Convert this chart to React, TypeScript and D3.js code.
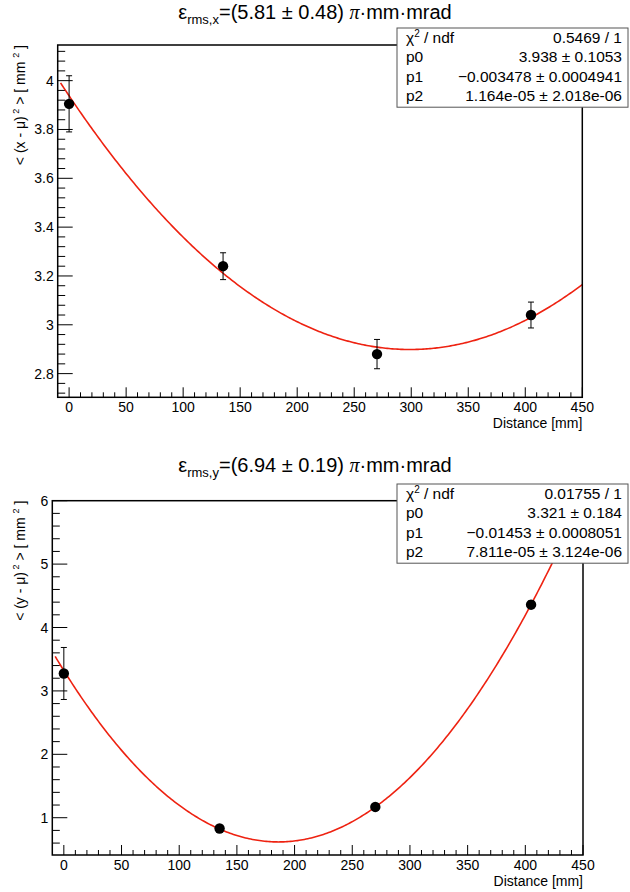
import React from 'react';
import * as d3 from 'd3';

// ---- data ----
const distances = [0, 135, 270, 405];
const sigmaX = [3.905, 3.24, 2.88, 3.04];
const sigmaXErr = [0.115, 0.055, 0.06, 0.053];
const sigmaY = [3.275, 0.83, 1.17, 4.36];
const sigmaYErr = [0.41, 0.05, 0.045, 0.06];
const fitParamsX = [3.938, -0.003478, 1.164e-5];
const fitParamsY = [3.321, -0.01453, 7.811e-5];
const statsLabels = ['p0', 'p1', 'p2'];
const statsX = ['0.5469 / 1', '3.938 ± 0.1053', '−0.003478 ± 0.0004941', '1.164e-05 ± 2.018e-06'];
const statsY = ['0.01755 / 1', '3.321 ± 0.184', '−0.01453 ± 0.0008051', '7.811e-05 ± 3.124e-06'];
const xMajorTicks = [0, 50, 100, 150, 200, 250, 300, 350, 400, 450];
const yMajorTicksX = [2.8, 3.0, 3.2, 3.4, 3.6, 3.8, 4.0];
const yMajorTicksY = [1, 2, 3, 4, 5, 6];
const titleX = { sub: 'rms,x', rest: '=(5.81 ± 0.48) ' };
const titleY = { sub: 'rms,y', rest: '=(6.94 ± 0.19) ' };

const FONT = '"Liberation Sans", Arial, Helvetica, sans-serif';

type PanelProps = {
  left: number; right: number; top: number; bottom: number;
  yDomain: [number, number];
  yMajor: number[]; yMinorStep: number;
  values: number[]; errors: number[];
  params: number[];
  stats: string[];
  title: { sub: string; rest: string };
  coord: string;
  boxTop: number;
  titleY: number;
};

function Panel(p: PanelProps) {
  const x = d3.scaleLinear().domain([-10, 450]).range([p.left, p.right]);
  const y = d3.scaleLinear().domain(p.yDomain).range([p.bottom, p.top]);
  const clipId = 'clip-' + p.coord;
  const f = (d: number) => p.params[0] + 2 * p.params[1] * d + p.params[2] * d * d;
  const samples = d3.range(-7.5, 450.01, 1.5);
  const line = d3.line<number>().x(d => x(d)).y(d => y(f(d)));
  const xMinor = d3.range(0, 451, 10).filter(v => v % 50 !== 0);
  const yMinor: number[] = [];
  const y0 = Math.ceil(p.yDomain[0] / p.yMinorStep - 1e-6);
  for (let i = y0; i * p.yMinorStep <= p.yDomain[1] + 1e-9; i++) {
    const v = +(i * p.yMinorStep).toFixed(6);
    if (!p.yMajor.some(m => Math.abs(m - v) < 1e-6)) yMinor.push(v);
  }
  const fmt = d3.format('~g');
  const boxL = 397, boxR = 628, rowH = 19.3;
  const boxB = p.boxTop + rowH * 4 + 2;
  const midX = 315;
  const SF = 15.5;
  return (
    <g>
      <defs>
        <clipPath id={clipId}>
          <rect x={p.left} y={p.top} width={p.right - p.left} height={p.bottom - p.top} />
        </clipPath>
      </defs>
      {/* title */}
      <text x={midX} y={p.titleY} textAnchor="middle" fontFamily={FONT} fontSize={20} fill="#000">
        <tspan>ε</tspan>
        <tspan fontSize={13} dy={5}>{p.title.sub}</tspan>
        <tspan dy={-5}>{p.title.rest}</tspan>
        <tspan fontFamily='"Liberation Serif", "Times New Roman", serif' fontStyle="italic">π</tspan>
        <tspan>·mm·mrad</tspan>
      </text>
      {/* axis ticks */}
      {xMajorTicks.map(v => (
        <line key={'xM' + v} x1={x(v)} x2={x(v)} y1={p.bottom} y2={p.bottom - 10} stroke="#000" strokeWidth={1} />
      ))}
      {xMinor.map(v => (
        <line key={'xm' + v} x1={x(v)} x2={x(v)} y1={p.bottom} y2={p.bottom - 5} stroke="#000" strokeWidth={1} />
      ))}
      {p.yMajor.map(v => (
        <line key={'yM' + v} x1={p.left} x2={p.left + 15} y1={y(v)} y2={y(v)} stroke="#000" strokeWidth={1} />
      ))}
      {yMinor.map(v => (
        <line key={'ym' + v} x1={p.left} x2={p.left + 7.5} y1={y(v)} y2={y(v)} stroke="#000" strokeWidth={1} />
      ))}
      {xMajorTicks.map(v => (
        <text key={'xl' + v} x={x(v)} y={p.bottom + 14.5} textAnchor="middle" fontFamily={FONT} fontSize={14}>{fmt(v)}</text>
      ))}
      {p.yMajor.map(v => (
        <text key={'yl' + v} x={p.left - 4} y={y(v) + 5} textAnchor="end" fontFamily={FONT} fontSize={14}>{fmt(v)}</text>
      ))}
      <text x={p.right} y={p.bottom + 31} textAnchor="end" fontFamily={FONT} fontSize={14}>Distance [mm]</text>
      <text transform={`translate(25,${p.top}) rotate(-90)`} textAnchor="end" fontFamily={FONT} fontSize={14}>
        <tspan>{`< (${p.coord} - μ)`}</tspan>
        <tspan fontSize={9} dy={-6}> 2</tspan>
        <tspan dy={6}>{' > [ mm '}</tspan>
        <tspan fontSize={9} dy={-6}>2</tspan>
        <tspan dy={6}>{' ]'}</tspan>
      </text>
      {/* fit curve */}
      <path d={line(samples) || ''} fill="none" stroke="#ee2211" strokeWidth={1.6} clipPath={`url(#${clipId})`} />
      {/* data points */}
      {distances.map((d, i) => {
        const cx = x(d), cy = y(p.values[i]);
        const yt = y(p.values[i] + p.errors[i]), yb = y(p.values[i] - p.errors[i]);
        return (
          <g key={'pt' + i}>
            <line x1={cx} x2={cx} y1={yt} y2={yb} stroke="#000" strokeWidth={1} />
            <line x1={cx - 3} x2={cx + 3} y1={yt} y2={yt} stroke="#000" strokeWidth={1} />
            <line x1={cx - 3} x2={cx + 3} y1={yb} y2={yb} stroke="#000" strokeWidth={1} />
            <circle cx={cx} cy={cy} r={5.2} fill="#000" />
          </g>
        );
      })}
      {/* frame */}
      <rect x={p.left} y={p.top} width={p.right - p.left} height={p.bottom - p.top} fill="none" stroke="#000" strokeWidth={1.5} />
      {/* stats box */}
      <rect x={boxL} y={p.boxTop} width={boxR - boxL} height={boxB - p.boxTop} fill="#fff" stroke="#555" strokeWidth={1} />
      <text x={boxL + 9} y={p.boxTop + rowH * 0.5 + 5.5} fontFamily={FONT} fontSize={SF}>
        <tspan>χ</tspan>
        <tspan fontSize={10} dy={-6}>2</tspan>
        <tspan dy={6}>{' / ndf'}</tspan>
      </text>
      {statsLabels.map((l, i) => (
        <text key={'sl' + i} x={boxL + 9} y={p.boxTop + rowH * (i + 1.5) + 5.5} fontFamily={FONT} fontSize={SF}>{l}</text>
      ))}
      {p.stats.map((s, i) => (
        <text key={'sv' + i} x={boxR - 6} y={p.boxTop + rowH * (i + 0.5) + 5.5} textAnchor="end" fontFamily={FONT} fontSize={SF}>{s}</text>
      ))}
    </g>
  );
}

export default function App() {
  return (
    <svg width={630} height={892} style={{ position: 'absolute', left: 0, top: 0, background: '#fff' }}>
      <rect x={0} y={0} width={630} height={892} fill="#fff" />
      <Panel left={57.7} right={582.3} top={45} bottom={397.3} yDomain={[2.703, 4.146]}
        yMajor={yMajorTicksX} yMinorStep={0.04} values={sigmaX} errors={sigmaXErr}
        params={fitParamsX} stats={statsX} title={titleX} coord="x" boxTop={28} titleY={19} />
      <Panel left={52.3} right={583} top={500.7} bottom={855} yDomain={[0.412, 6]}
        yMajor={yMajorTicksY} yMinorStep={0.2} values={sigmaY} errors={sigmaYErr}
        params={fitParamsY} stats={statsY} title={titleY} coord="y" boxTop={484} titleY={472} />
    </svg>
  );
}
